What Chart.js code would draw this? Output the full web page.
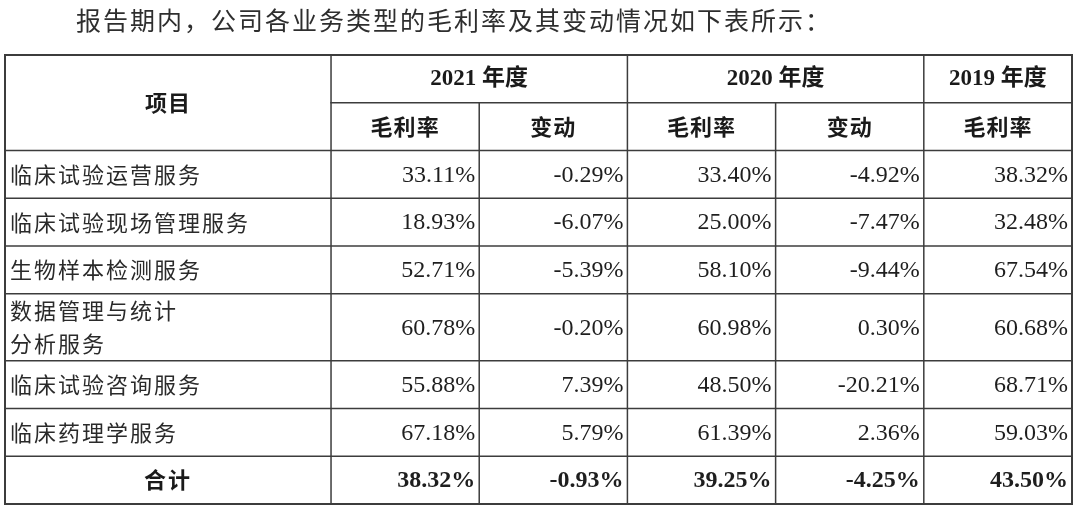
<!DOCTYPE html>
<html>
<head>
<meta charset="utf-8">
<script src="https://cdn.jsdelivr.net/npm/chart.js@4.4.1/dist/chart.umd.min.js"></script>
<style>
  html, body { margin: 0; padding: 0; background: #ffffff; }
  canvas { display: block; }
</style>
</head>
<body>
<canvas id="c" width="1080" height="510"></canvas>
<script>
// ---------- DATA ----------
const titleText = '报告期内，公司各业务类型的毛利率及其变动情况如下表所示：';
const itemHeader = '项目';
const yearHeaders = ['2021 年度', '2020 年度', '2019 年度'];
const subHeaders = ['毛利率', '变动', '毛利率', '变动', '毛利率'];
const categories = [
  ['临床试验运营服务'],
  ['临床试验现场管理服务'],
  ['生物样本检测服务'],
  ['数据管理与统计', '分析服务'],
  ['临床试验咨询服务'],
  ['临床药理学服务']
];
const rate2021   = [33.11, 18.93, 52.71, 60.78, 55.88, 67.18];
const change2021 = [-0.29, -6.07, -5.39, -0.20, 7.39, 5.79];
const rate2020   = [33.40, 25.00, 58.10, 60.98, 48.50, 61.39];
const change2020 = [-4.92, -7.47, -9.44, 0.30, -20.21, 2.36];
const rate2019   = [38.32, 32.48, 67.54, 60.68, 68.71, 59.03];
const totalLabel = '合计';
const totals     = [38.32, -0.93, 39.25, -4.25, 43.50];

// ---------- LAYOUT (style, not data) ----------
const colUnits = [2.2, 1, 1, 1, 1, 1];
const rowUnits = [1, 1, 1, 1, 1, 1.4, 1, 1, 1]; // 2 header rows, 6 data rows, total row
const colEdges = colUnits.reduce((a, w) => { a.push(a[a.length - 1] + w); return a; }, [0]);
const rowEdges = rowUnits.reduce((a, h) => { a.push(a[a.length - 1] + h); return a; }, [0]);
const mid = (e, i) => (e[i] + e[i + 1]) / 2;

const valueColumns = [rate2021, change2021, rate2020, change2020, rate2019];
const fmt = v => v.toFixed(2) + '%';

// one dataset per value column: points sit at cell centres on the scales
const datasets = valueColumns.map((col, c) => ({
  label: subHeaders[c],
  data: col.map((v, r) => ({ x: mid(colEdges, c + 1), y: mid(rowEdges, r + 2), v: v })),
  pointRadius: 0,
  showLine: false
}));
datasets.push({
  label: totalLabel,
  data: totals.map((v, c) => ({ x: mid(colEdges, c + 1), y: mid(rowEdges, 8), v: v })),
  pointRadius: 0,
  showLine: false
});

const tablePlugin = {
  id: 'tablePlugin',
  afterDraw(chart) {
    const ctx = chart.ctx;
    const xs = chart.scales.x, ys = chart.scales.y;
    const X = v => xs.getPixelForValue(v);
    const Y = v => ys.getPixelForValue(v);
    const area = chart.chartArea;

    ctx.save();
    // title
    ctx.fillStyle = '#2e2e2e';
    ctx.font = "25px 'Noto Sans CJK SC'";
    ctx.letterSpacing = '2px';
    ctx.textAlign = 'left';
    ctx.textBaseline = 'middle';
    ctx.fillText(titleText, area.left + 71, area.top - 35);
    ctx.letterSpacing = '0px';

    // grid lines
    ctx.strokeStyle = '#3c3c3c';
    ctx.lineCap = 'square';
    rowEdges.forEach((e, i) => {
      const x0 = (i === 1) ? X(colEdges[1]) : X(colEdges[0]);
      ctx.lineWidth = (i === 0 || i === rowEdges.length - 1) ? 2 : 1.5;
      ctx.beginPath();
      ctx.moveTo(x0, Y(e));
      ctx.lineTo(X(colEdges[colEdges.length - 1]), Y(e));
      ctx.stroke();
    });
    colEdges.forEach((e, i) => {
      const y0 = (i === 2 || i === 4) ? Y(rowEdges[1]) : Y(rowEdges[0]);
      ctx.lineWidth = (i === 0 || i === colEdges.length - 1) ? 2 : 1.5;
      ctx.beginPath();
      ctx.moveTo(X(e), y0);
      ctx.lineTo(X(e), Y(rowEdges[rowEdges.length - 1]));
      ctx.stroke();
    });

    // headers
    ctx.fillStyle = '#1a1a1a';
    ctx.textAlign = 'center';
    ctx.font = "bold 22px 'Noto Sans CJK SC'";
    ctx.letterSpacing = '1px';
    ctx.fillText(itemHeader, X(mid(colEdges, 0)), Y(rowEdges[1]));
    ctx.letterSpacing = '0px';
    const yearSpans = [[1, 3], [3, 5], [5, 6]];
    ctx.font = "bold 23px 'Liberation Serif', 'Noto Sans CJK SC'";
    yearHeaders.forEach((t, i) => {
      const [a, b] = yearSpans[i];
      ctx.fillText(t, (X(colEdges[a]) + X(colEdges[b])) / 2, Y(mid(rowEdges, 0)));
    });
    ctx.font = "bold 22px 'Noto Sans CJK SC'";
    ctx.letterSpacing = '1px';
    subHeaders.forEach((t, i) => {
      ctx.fillText(t, X(mid(colEdges, i + 1)), Y(mid(rowEdges, 1)));
    });

    // row labels
    ctx.fillStyle = '#2a2a2a';
    ctx.textAlign = 'left';
    ctx.font = "22px 'Noto Sans CJK SC'";
    ctx.letterSpacing = '2px';
    categories.forEach((lines, r) => {
      const cy = Y(mid(rowEdges, r + 2));
      const lh = 33;
      lines.forEach((ln, k) => {
        const off = (k - (lines.length - 1) / 2) * lh;
        ctx.fillText(ln, X(colEdges[0]) + 5, cy + off);
      });
    });
    ctx.letterSpacing = '0px';

    // values
    chart.data.datasets.forEach((ds, di) => {
      const meta = chart.getDatasetMeta(di);
      const isTotal = di === chart.data.datasets.length - 1;
      ctx.font = (isTotal ? 'bold ' : '') + "24px 'Liberation Serif'";
      ctx.fillStyle = '#1e1e1e';
      ctx.textAlign = 'right';
      meta.data.forEach((pt, k) => {
        const raw = ds.data[k];
        const c = colEdges.findIndex(e => e > raw.x);
        const right = X(colEdges[c]) - 4;
        ctx.fillText(fmt(raw.v), right, pt.y + 1);
      });
    });

    // total label
    ctx.font = "bold 22px 'Noto Sans CJK SC'";
    ctx.letterSpacing = '2px';
    ctx.textAlign = 'center';
    ctx.fillStyle = '#1a1a1a';
    ctx.fillText(totalLabel, X(mid(colEdges, 0)), Y(mid(rowEdges, 8)));
    ctx.restore();
  }
};

new Chart(document.getElementById('c'), {
  type: 'scatter',
  data: { datasets: datasets },
  options: {
    responsive: false,
    animation: false,
    devicePixelRatio: 1,
    layout: { padding: { left: 5, right: 8, top: 55, bottom: 6 } },
    scales: {
      x: { type: 'linear', display: false, min: 0, max: colEdges[colEdges.length - 1] },
      y: { type: 'linear', display: false, min: 0, max: rowEdges[rowEdges.length - 1], reverse: true }
    },
    plugins: { legend: { display: false }, tooltip: { enabled: false }, title: { display: false } },
    events: []
  },
  plugins: [tablePlugin]
});
</script>
</body>
</html>
